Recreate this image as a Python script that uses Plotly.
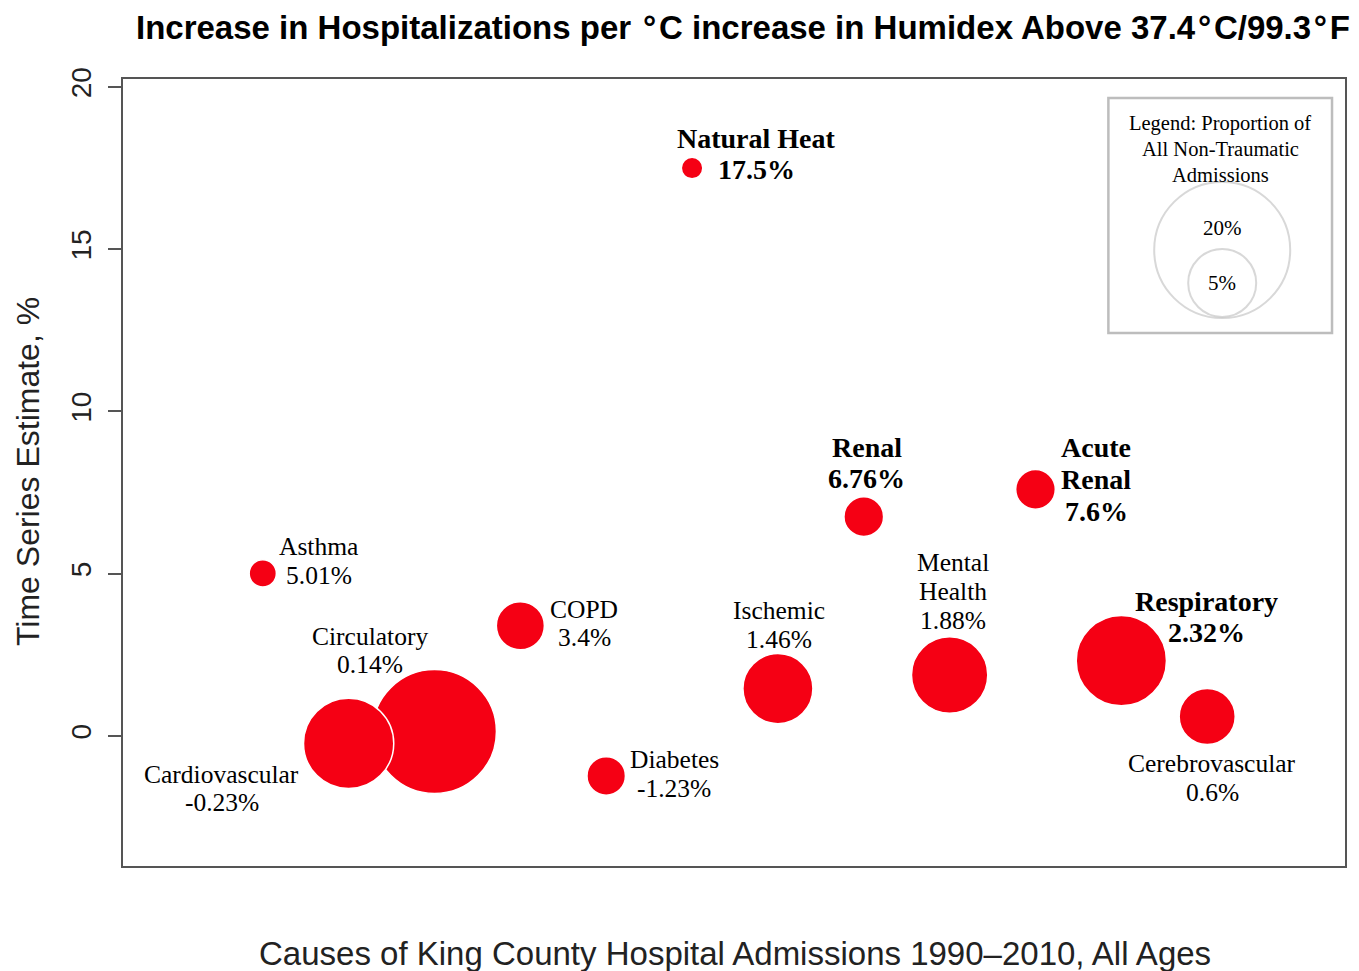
import plotly.graph_objects as go

# ---------------- data ----------------
causes = ["Asthma", "Cardiovascular", "Circulatory", "COPD", "Diabetes", "Natural Heat",
          "Ischemic", "Renal", "Mental Health", "Acute Renal", "Respiratory", "Cerebrovascular"]
x_pos = [1, 2, 3, 4, 5, 6, 7, 8, 9, 10, 11, 12]
estimate_pct = [5.01, -0.23, 0.14, 3.4, -1.23, 17.5, 1.46, 6.76, 1.88, 7.6, 2.32, 0.6]
proportion_pct = [0.8, 8.8, 16.6, 2.5, 1.6, 0.5, 5.3, 1.7, 6.3, 1.7, 8.8, 3.4]
label_names = [["Asthma"], ["Cardiovascular"], ["Circulatory"], ["COPD"], ["Diabetes"],
               ["Natural Heat"], ["Ischemic"], ["Renal"], ["Mental", "Health"],
               ["Acute", "Renal"], ["Respiratory"], ["Cerebrovascular"]]
label_bold = [False, False, False, False, False, True, False, True, False, True, True, False]

legend_props = [20, 5]
legend_labels = ["20%", "5%"]
legend_title_lines = ["Legend: Proportion of", "All Non-Traumatic", "Admissions"]

# ---------------- style / layout constants ----------------
RED = "#F50014"
PAGE = 8                      # browser body margin
W, H = 1359 - PAGE, 971 - PAGE
# plot area in page pixels: x 123..1347, y 79..866
ML = 123 - PAGE
MT = 79 - PAGE
MR = W - (1347 - PAGE)
MB = H - (866 - PAGE)
XR = [-0.628, 13.605]
YR = [-4.006, 20.246]
SIZEREF = 2 * 20 / 136.0 ** 2  # 20% -> 136 px diameter (area scaling)

# label offsets of first line centre relative to bubble centre (px, +down), line spacing
label_offsets = [(56, -27, 29), (-127, 31, 28), (-64, -95, 28), (64, -16, 28), (68, -16, 29),
                 (64, -30, 31), (1, -78, 29), (3, -69, 31), (3, -112, 29), (61, -42, 32),
                 (85, -59, 31), (5, 47, 29)]

plot_w = W - ML - MR
plot_h = H - MT - MB


def px_to_x(px):  # page pixel -> data x
    return XR[0] + (px - 123) / plot_w * (XR[1] - XR[0])


def py_to_y(py):  # page pixel -> data y
    return YR[1] - (py - 79) / plot_h * (YR[1] - YR[0])


fig = go.Figure()

# bubbles, largest first so smaller ones sit on top (like R's symbols())
order = sorted(range(len(causes)), key=lambda i: -proportion_pct[i])
fig.add_trace(go.Scatter(
    x=[x_pos[i] for i in order],
    y=[estimate_pct[i] for i in order],
    mode="markers",
    marker=dict(size=[proportion_pct[i] for i in order], sizemode="area", sizeref=SIZEREF,
                color=RED, line=dict(color="white", width=1.5), opacity=1),
    text=[causes[i] for i in order],
    hoverinfo="text+y",
    showlegend=False,
))

# legend box
lx0, lx1 = px_to_x(1110), px_to_x(1334)
ly1, ly0 = py_to_y(98), py_to_y(333)
fig.add_shape(type="rect", xref="x", yref="y", x0=lx0, x1=lx1, y0=ly0, y1=ly1,
              line=dict(color="#BDBDBD", width=2.5), fillcolor="rgba(0,0,0,0)", layer="below")

leg_cx = px_to_x(1224)
leg_cy = [py_to_y(250), py_to_y(283)]
fig.add_trace(go.Scatter(
    x=[leg_cx, leg_cx], y=leg_cy, mode="markers",
    marker=dict(size=legend_props, sizemode="area", sizeref=SIZEREF,
                color="white", line=dict(color="#C8C8C8", width=2)),
    hoverinfo="skip", showlegend=False,
))

annotations = []
serif = "Liberation Serif, Times New Roman, serif"
sans = "Liberation Sans, Arial, sans-serif"

for i, name in enumerate(causes):
    lines = label_names[i] + [f"{estimate_pct[i]:g}%"]
    dx, dy, sp = label_offsets[i]
    bold = label_bold[i]
    for k, line in enumerate(lines):
        annotations.append(dict(
            x=x_pos[i], y=estimate_pct[i], xref="x", yref="y",
            text=f"<b>{line}</b>" if bold else line,
            showarrow=False, xanchor="center", yanchor="middle",
            xshift=dx, yshift=-(dy + k * sp),
            font=dict(family=serif, size=28 if bold else 25.5, color="black"),
        ))

# legend texts
for k, line in enumerate(legend_title_lines):
    annotations.append(dict(x=px_to_x(1222), y=py_to_y(123 + 26 * k), xref="x", yref="y",
                            text=line, showarrow=False, xanchor="center", yanchor="middle",
                            font=dict(family=serif, size=20.5, color="black")))
for lbl, py in zip(legend_labels, [228, 283]):
    annotations.append(dict(x=leg_cx, y=py_to_y(py), xref="x", yref="y", text=lbl,
                            showarrow=False, xanchor="center", yanchor="middle",
                            font=dict(family=serif, size=21, color="black")))

# title and axis titles (positions in page pixels)
annotations.append(dict(
    x=(744 - 123) / plot_w, y=1, xref="paper", yref="paper", yshift=79 - 27,
    text="<b>Increase in Hospitalizations per \u200a\u00b0\u200aC increase in Humidex Above 37.4\u200a\u00b0\u200aC/99.3\u200a\u00b0\u200aF</b>",
    showarrow=False, xanchor="center", yanchor="middle",
    font=dict(family=sans, size=33, color="black")))
annotations.append(dict(
    x=(736 - 123) / plot_w, y=0, xref="paper", yref="paper", yshift=-(953 - 866),
    text="Causes of King County Hospital Admissions 1990\u20132010, All Ages",
    showarrow=False, xanchor="center", yanchor="middle",
    font=dict(family=sans, size=33, color="#222222")))
annotations.append(dict(
    x=0, y=(866 - 472) / plot_h, xref="paper", yref="paper", xshift=-(123 - 28),
    text="Time Series Estimate, %", textangle=-90,
    showarrow=False, xanchor="center", yanchor="middle",
    font=dict(family=sans, size=32, color="#222222")))

fig.update_layout(
    width=W, height=H,
    margin=dict(l=ML, r=MR, t=MT, b=MB),
    paper_bgcolor="white", plot_bgcolor="white",
    annotations=annotations,
    showlegend=False,
    xaxis=dict(range=XR, showgrid=False, zeroline=False, showticklabels=False, ticks="",
               showline=True, mirror=True, linecolor="#555555", linewidth=1.5),
    yaxis=dict(range=YR, showgrid=False, zeroline=False, tickvals=[0, 5, 10, 15, 20],
               ticks="outside", ticklen=13, tickcolor="#555555", tickwidth=1.5,
               tickangle=-90, ticklabelstandoff=6,
               tickfont=dict(family=sans, size=28, color="#222222"),
               showline=True, mirror=True, linecolor="#555555", linewidth=1.5),
)

fig.write_html("out.html")
